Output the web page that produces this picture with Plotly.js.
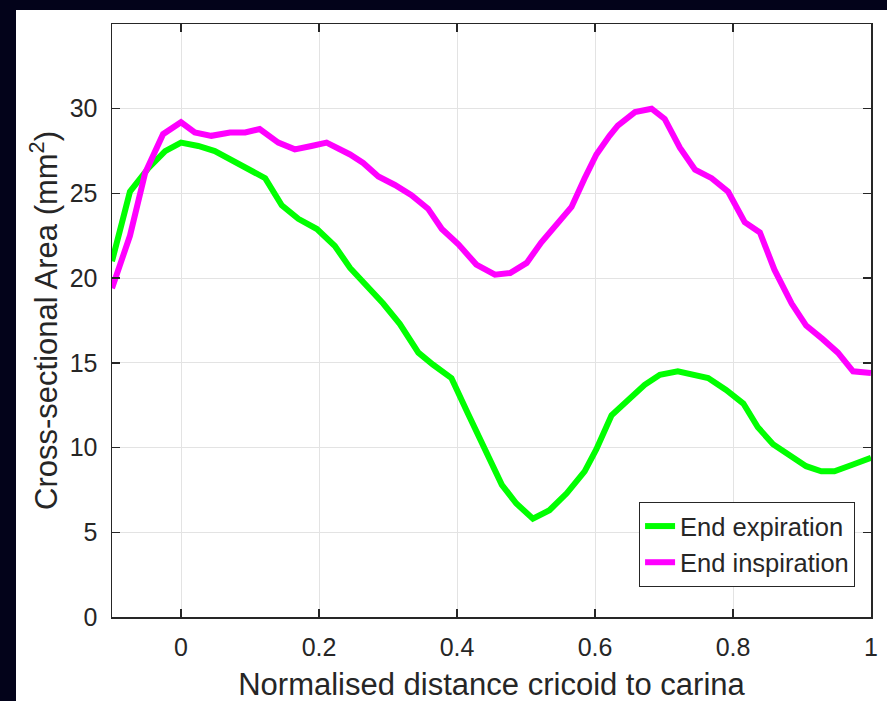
<!DOCTYPE html>
<html>
<head>
<meta charset="utf-8">
<script src="https://cdn.plot.ly/plotly-3.0.1.min.js"></script>
<style>
  html, body { margin: 0; padding: 0; background: #03031a; width: 887px; height: 701px; overflow: hidden; }
  #chart { position: absolute; left: 16px; top: 10px; width: 871px; height: 701px; background: #ffffff; }
</style>
</head>
<body>
<div id="chart"></div>
<script>
// Data
const expX = [-0.1, -0.074, -0.047, -0.023, 0, 0.025, 0.049, 0.073, 0.097, 0.122, 0.146, 0.170, 0.197, 0.223, 0.245, 0.269, 0.293, 0.317, 0.344, 0.365, 0.392, 0.416, 0.440, 0.465, 0.486, 0.510, 0.534, 0.559, 0.585, 0.602, 0.624, 0.650, 0.672, 0.694, 0.720, 0.764, 0.790, 0.815, 0.836, 0.858, 0.882, 0.906, 0.928, 0.947, 0.974, 1.0];
const expY = [21.0, 25.1, 26.5, 27.5, 28.0, 27.8, 27.5, 27.0, 26.5, 25.9, 24.3, 23.5, 22.9, 21.9, 20.6, 19.6, 18.5, 17.3, 15.6, 14.9, 14.1, 12.0, 9.9, 7.8, 6.7, 5.8, 6.3, 7.3, 8.6, 9.9, 11.9, 12.9, 13.7, 14.3, 14.5, 14.1, 13.4, 12.6, 11.2, 10.2, 9.6, 8.9, 8.6, 8.6, 9.0, 9.4];

const insX = [-0.1, -0.074, -0.052, -0.026, 0, 0.020, 0.044, 0.071, 0.093, 0.114, 0.141, 0.165, 0.189, 0.211, 0.245, 0.264, 0.286, 0.310, 0.334, 0.358, 0.378, 0.402, 0.428, 0.455, 0.477, 0.501, 0.522, 0.546, 0.566, 0.585, 0.602, 0.621, 0.633, 0.658, 0.682, 0.701, 0.723, 0.745, 0.769, 0.793, 0.817, 0.839, 0.860, 0.885, 0.906, 0.930, 0.952, 0.974, 1.0];
const insY = [19.4, 22.5, 26.2, 28.5, 29.2, 28.6, 28.4, 28.6, 28.6, 28.8, 28.0, 27.6, 27.8, 28.0, 27.3, 26.8, 26.0, 25.5, 24.9, 24.1, 22.9, 22.0, 20.8, 20.2, 20.3, 20.9, 22.1, 23.2, 24.2, 25.9, 27.3, 28.4, 29.0, 29.8, 30.0, 29.4, 27.7, 26.4, 25.9, 25.1, 23.3, 22.7, 20.5, 18.5, 17.2, 16.4, 15.6, 14.5, 14.4];

const seriesNames = ['End expiration', 'End inspiration'];
const xTicks = [0, 0.2, 0.4, 0.6, 0.8, 1];
const xTickText = ['0', '0.2', '0.4', '0.6', '0.8', '1'];
const yTicks = [0, 5, 10, 15, 20, 25, 30];
const yTickText = ['0', '5', '10', '15', '20', '25', '30'];

const ink = '#262626';
const fontFam = 'Liberation Sans, Arial, Helvetica, sans-serif';

const traces = [
  { x: expX, y: expY, name: seriesNames[0], type: 'scatter', mode: 'lines',
    line: { color: '#00ff00', width: 6 } },
  { x: insX, y: insY, name: seriesNames[1], type: 'scatter', mode: 'lines',
    line: { color: '#ff00ff', width: 6 } }
];

const layout = {
  width: 871, height: 701,
  margin: { l: 96, r: 16, t: 14, b: 94 },
  paper_bgcolor: '#ffffff',
  plot_bgcolor: '#ffffff',
  font: { family: fontFam, color: ink, size: 25 },
  showlegend: true,
  legend: {
    x: 0.979, y: 0.0506, xanchor: 'right', yanchor: 'bottom',
    bgcolor: '#ffffff', bordercolor: ink, borderwidth: 1,
    font: { family: fontFam, size: 25.5, color: ink },
    tracegroupgap: 0
  },
  xaxis: {
    range: [-0.1, 1], tickvals: xTicks, ticktext: xTickText,
    ticks: 'inside', ticklen: 8, tickwidth: 1.5, tickcolor: ink,
    showline: true, linecolor: ink, linewidth: 1.5, mirror: 'ticks',
    showgrid: true, gridcolor: '#e3e3e3', gridwidth: 1, zeroline: false,
    tickfont: { size: 25, color: ink }, ticklabelstandoff: 7,
    title: { text: 'Normalised distance cricoid to carina', font: { size: 31, color: ink }, standoff: 14 }
  },
  yaxis: {
    range: [0, 35], tickvals: yTicks, ticktext: yTickText,
    ticks: 'inside', ticklen: 8, tickwidth: 1.5, tickcolor: ink,
    showline: true, linecolor: ink, linewidth: 1.5, mirror: 'ticks',
    showgrid: true, gridcolor: '#e3e3e3', gridwidth: 1, zeroline: false,
    tickfont: { size: 25, color: ink }, ticklabelstandoff: 8,
    title: { text: 'Cross-sectional Area (mm<sup>2</sup>)', font: { size: 31, color: ink }, standoff: 3 }
  }
};

Plotly.newPlot('chart', traces, layout, { displayModeBar: false, staticPlot: true });
</script>
</body>
</html>
